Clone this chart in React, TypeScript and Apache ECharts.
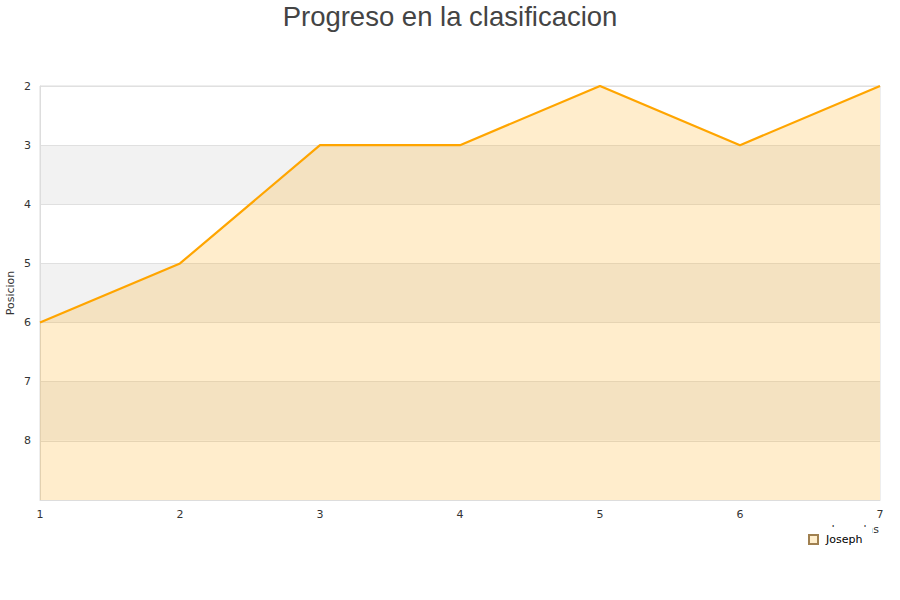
import React, { useEffect, useRef } from "react";
import * as echarts from "echarts";

const jornadas = ["1", "2", "3", "4", "5", "6", "7"];
const posiciones = [6, 5, 3, 3, 2, 3, 2];
const seriesName = "Joseph";
const titleText = "Progreso en la clasificacion";
const yAxisName = "Posicion";
const xAxisName = "Jornadas";

export default function App() {
  const ref = useRef<HTMLDivElement>(null);
  useEffect(() => {
    if (!ref.current) return;
    const chart = echarts.init(ref.current, undefined, { renderer: "svg" });
    chart.setOption({
      animation: false,
      backgroundColor: "#fff",
      title: {
        text: titleText,
        left: "center",
        top: -3,
        textStyle: {
          fontFamily: "Liberation Sans, Arial, sans-serif",
          fontSize: 27.5,
          fontWeight: "normal",
          color: "#444",
        },
      },
      grid: {
        left: 40,
        right: 20,
        top: 86,
        bottom: 100,
        outerBoundsMode: "none",
        containLabel: false,
        show: true,
        borderColor: "#ddd",
        borderWidth: 1,
        backgroundColor: "transparent",
      },
      legend: {
        data: [seriesName],
        left: 802,
        top: 527,
        padding: [7, 10, 6, 6],
        backgroundColor: "#fff",
        z: 10,
        icon: "rect",
        itemWidth: 9,
        itemHeight: 9,
        itemGap: 5,
        textStyle: {
          fontFamily: "DejaVu Sans, sans-serif",
          fontSize: 11,
          color: "#000",
          padding: [0, 0, 0, 3],
        },
      },
      graphic: [
        {
          type: "text",
          right: 21,
          top: 524,
          z: 0,
          style: {
            text: xAxisName,
            fontSize: 11,
            fontFamily: "DejaVu Sans, sans-serif",
            fill: "#333",
          },
        },
      ],
      xAxis: {
        type: "category",
        data: jornadas,
        boundaryGap: false,
        axisLine: { show: true, lineStyle: { color: "#ddd" } },
        axisTick: { show: false },
        axisLabel: {
          color: "#333",
          fontSize: 11,
          margin: 9,
          fontFamily: "DejaVu Sans, sans-serif",
        },
        splitLine: { show: false },
      },
      yAxis: {
        type: "value",
        inverse: true,
        min: 2,
        max: 9,
        interval: 1,
        name: yAxisName,
        nameLocation: "middle",
        nameGap: 24,
        nameMoveOverlap: false,
        nameTextStyle: {
          color: "#333",
          fontSize: 11,
          fontFamily: "DejaVu Sans, sans-serif",
        },
        axisLine: { show: true, lineStyle: { color: "#ddd" } },
        axisTick: { show: false },
        axisLabel: {
          color: "#333",
          fontSize: 11,
          margin: 9,
          showMaxLabel: false,
          fontFamily: "DejaVu Sans, sans-serif",
        },
        splitLine: { show: true, lineStyle: { color: "#e0e0e0" } },
        splitArea: {
          show: true,
          areaStyle: { color: ["#ffffff", "#f2f2f2"] },
        },
      },
      series: [
        {
          name: seriesName,
          type: "line",
          data: posiciones,
          symbol: "none",
          lineStyle: { color: "#ffa500", width: 2.2 },
          itemStyle: { color: "#ffeecc", borderColor: "#a08050", borderWidth: 1 },
          areaStyle: { color: "#ffa500", opacity: 0.2, origin: "end" },
        },
      ],
    });
    return () => chart.dispose();
  }, []);
  return (
    <div
      ref={ref}
      style={{ position: "fixed", left: 0, top: 0, width: 900, height: 600 }}
    />
  );
}
